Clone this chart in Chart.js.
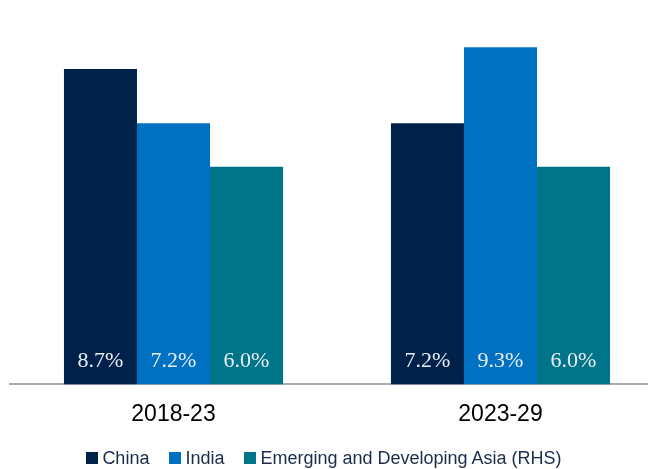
<!DOCTYPE html>
<html>
<head>
<meta charset="utf-8">
<script src="https://cdn.jsdelivr.net/npm/chart.js@4/dist/chart.umd.min.js"></script>
<style>
  html, body { margin: 0; padding: 0; background: #fff; }
  #wrap { position: relative; width: 648px; height: 469px; overflow: hidden; }
  #chart { position: absolute; left: 0; top: 0; }
  #legend {
    position: absolute; left: 0; top: 447px; width: 648px; height: 22px;
    display: flex; justify-content: center; align-items: center;
    font-family: "Liberation Sans", Arial, sans-serif;
    font-size: 18px; color: #1b2b4b;
  }
  #legend span.item { display: flex; align-items: center; margin: 0 10px; }
  #legend span.box { width: 12px; height: 12px; margin-right: 4px; display: inline-block; }
</style>
</head>
<body>
<div id="wrap">
  <canvas id="chart" width="664" height="469"></canvas>
  <div id="legend"></div>
</div>
<script>
// Données du graphique
const periods = ['2018-23', '2023-29'];
const chinaGrowth = [8.7, 7.2];
const indiaGrowth = [7.2, 9.3];
const asiaGrowth = [6.0, 6.0];
const seriesNames = ['China', 'India', 'Emerging and Developing Asia (RHS)'];
const seriesColors = ['#00224a', '#0070c0', '#007589'];

// Étiquettes de valeur en bas des barres
const valueLabels = {
    id: 'valueLabels',
    afterDatasetsDraw(chart) {
        const ctx = chart.ctx;
        const base = chart.scales.y.getPixelForValue(0);
        ctx.save();
        ctx.font = '22px "Liberation Serif", "Times New Roman", serif';
        ctx.fillStyle = '#e9eef4';
        ctx.textAlign = 'center';
        ctx.textBaseline = 'middle';
        chart.data.datasets.forEach((ds, i) => {
            chart.getDatasetMeta(i).data.forEach((bar, j) => {
                ctx.fillText(ds.data[j].toFixed(1) + '%', bar.x, base - 23);
            });
        });
        ctx.restore();
    }
};

const ctx = document.getElementById('chart').getContext('2d');
new Chart(ctx, {
    type: 'bar',
    data: {
        labels: periods,
        datasets: [
            { label: seriesNames[0], data: chinaGrowth, backgroundColor: seriesColors[0] },
            { label: seriesNames[1], data: indiaGrowth, backgroundColor: seriesColors[1] },
            { label: seriesNames[2], data: asiaGrowth, backgroundColor: seriesColors[2] }
        ]
    },
    options: {
        responsive: false,
        animation: false,
        layout: { padding: { left: 10, right: 0, top: 0, bottom: 25 } },
        datasets: { bar: { categoryPercentage: 0.67, barPercentage: 1.0 } },
        plugins: {
            legend: { display: false },
            tooltip: { enabled: false }
        },
        scales: {
            x: {
                grid: { display: false, drawTicks: false },
                border: { display: true, color: '#aaaab2', width: 2 },
                ticks: {
                    padding: 16,
                    color: '#000',
                    font: { family: '"Liberation Sans", Arial, sans-serif', size: 23 }
                }
            },
            y: {
                display: false,
                min: 0,
                max: 10.6
            }
        }
    },
    plugins: [valueLabels]
});

// Légende HTML centrée sur la largeur visible
const legend = document.getElementById('legend');
seriesNames.forEach((name, i) => {
    const item = document.createElement('span');
    item.className = 'item';
    item.innerHTML = '<span class="box" style="background:' + seriesColors[i] + '"></span>' + name;
    legend.appendChild(item);
});
</script>
</body>
</html>
